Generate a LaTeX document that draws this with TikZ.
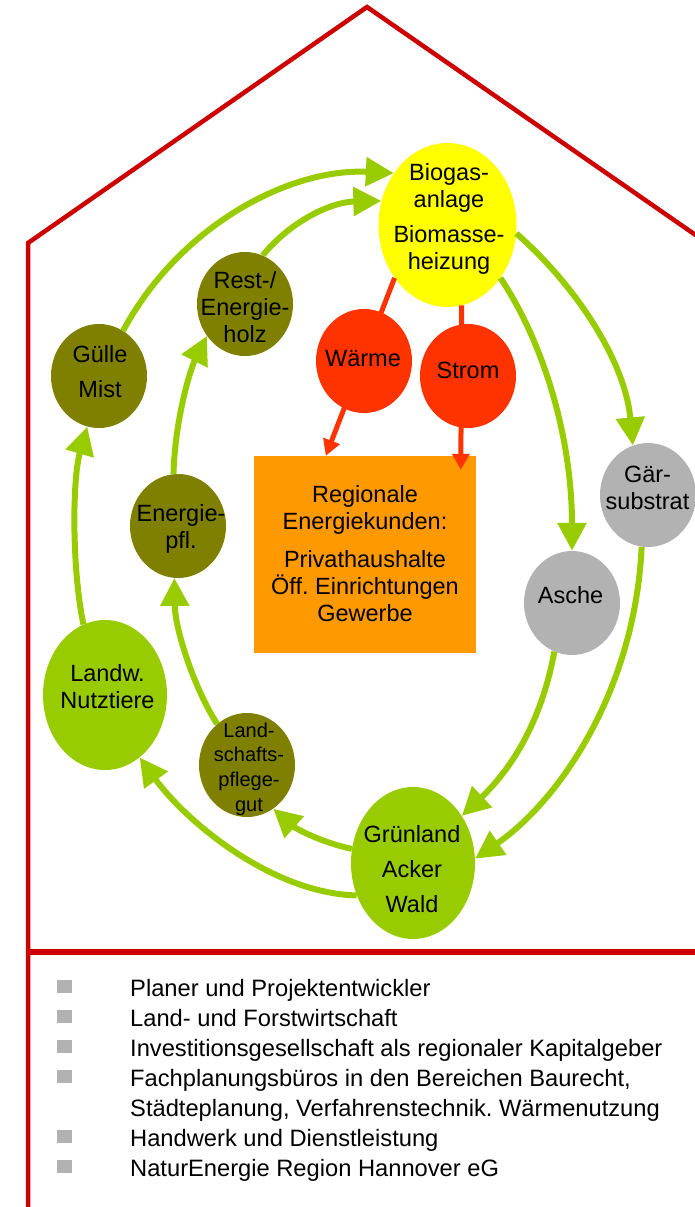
\documentclass[tikz,border=0pt]{standalone}
\usepackage{fontspec}
\setmainfont{Liberation Sans}
\usetikzlibrary{shapes.geometric,arrows.meta}
\definecolor{cHouse}{HTML}{CC0000}
\definecolor{cGreen}{HTML}{99CC00}
\definecolor{cOlive}{HTML}{808000}
\definecolor{cRed}{HTML}{FF3300}
\definecolor{cYellow}{HTML}{FFFF00}
\definecolor{cOrange}{HTML}{FF9900}
\definecolor{cGrey}{HTML}{B2B2B2}
\frenchspacing
\begin{document}
\begin{tikzpicture}[x=1pt,y=-1pt,
  blob/.style={ellipse, inner sep=0pt, draw=none},
  bigblob/.style={blob, minimum width=124pt, minimum height=150pt},
  smallblob/.style={blob, minimum width=96pt, minimum height=104pt},
  txt/.style={align=center, inner sep=0pt, text=black, font=\fontsize{23.5}{27}\selectfont},
  smalltxt/.style={align=center, inner sep=0pt, text=black, font=\fontsize{20}{24.7}\selectfont},
  legendtxt/.style={anchor=base west, inner sep=0pt, text=black, font=\fontsize{23.7}{28}\selectfont},
  bulletbox/.style={rectangle, fill=cGrey, minimum width=15pt, minimum height=13pt, inner sep=0pt},
  housepen/.style={draw=cHouse, line width=4.5pt, line join=miter},
  garrow/.style={draw=cGreen, line width=6pt, -{Triangle[length=28pt,width=28pt]}},
  rarrow/.style={draw=cRed, line width=5pt, -{Triangle[length=16pt,width=17pt]}}
]
\useasboundingbox (0,0) rectangle (695,1207);

% house outline
\coordinate (roofR) at (697,236);
\coordinate (apex) at (367,7);
\coordinate (eaveL) at (28,243);
\coordinate (footL) at (28,1210);
\coordinate (sepL) at (28,952);
\coordinate (sepR) at (697,952);
\draw[housepen] (roofR) -- (apex) -- (eaveL) -- (footL);
\draw[housepen, line width=5.5pt] (sepL) -- (sepR);

% central nodes
\node[blob, fill=cYellow, minimum width=138pt, minimum height=164pt] (bio) at (447.5,225) {};
\node[rectangle, fill=cOrange, minimum width=222pt, minimum height=197pt, inner sep=0pt] (box) at (365,554.5) {};

% red flows (behind Waerme / Strom)
\draw[rarrow] (bio.225) -- ([xshift=72pt]box.north west);
\draw[rarrow] (bio.-80) -- ([xshift=207pt,yshift=-14pt]box.north west);

\node[smallblob, fill=cRed] (waerme) at (364,361) {};
\node[smallblob, fill=cRed] (strom) at (468,376) {};

% cycle nodes
\node[smallblob, fill=cOlive] (rest) at (245,304) {};
\node[smallblob, fill=cOlive] (guelle) at (99,376) {};
\node[smallblob, fill=cOlive] (epfl) at (178,526) {};
\node[smallblob, fill=cGrey] (gaer) at (648,495) {};
\node[smallblob, fill=cGrey] (asche) at (572,603) {};
\node[smallblob, fill=cOlive] (lpg) at (247,765) {};
\node[bigblob, fill=cGreen] (landw) at (105,695) {};
\node[bigblob, fill=cGreen, minimum height=152pt] (gruen) at (413,863) {};

% green flows
\draw[garrow] (guelle.62) .. controls (180,225) and (290,168) .. (bio.136);
\draw[garrow] (rest.70) .. controls (290,222) and (330,202) .. (bio.160);
\draw[garrow] (bio.-7) .. controls (575,285) and (625,360) .. (gaer.107);
\draw[garrow] (bio.-45) .. controls (545,345) and (572,440) .. (asche.90);
\draw[garrow] (gaer.-97) .. controls (635,690) and (560,800) .. (gruen.4);
\draw[garrow] (asche.-110) .. controls (540,730) and (505,775) .. (gruen.44);
\draw[garrow] (gruen.167) .. controls (320,842) and (295,828) .. (lpg.-59);
\draw[garrow] (gruen.210) .. controls (270,893) and (185,820) .. (landw.-61);
\draw[garrow] (landw.107) .. controls (72,570) and (72,480) .. (guelle.-103);
\draw[garrow] (lpg.126) .. controls (195,690) and (175,630) .. (epfl.-94);
\draw[garrow] (epfl.95) .. controls (175,420) and (190,370) .. (rest.220);

% texts
\node[txt] (bioT) at (449,219) {Biogas-\\anlage\\[8pt]Biomasse-\\heizung};
\node[txt] (boxT) at (365,553.6) {Regionale\\Energiekunden:\\[11pt]Privathaushalte\\Öff. Einrichtungen\\Gewerbe};
\node[txt] (waermeT) at (363,358.7) {Wärme};
\node[txt] (stromT) at (468,370.7) {Strom};
\node[txt] (restT) at (245,306.6) {Rest-/\\Energie-\\holz};
\node[txt] (guelleT) at (100,372) {Gülle\\[8pt]Mist};
\node[txt] (epflT) at (181,528.6) {Energie-\\pfl.};
\node[txt] (gaerT) at (647.5,488) {Gär-\\substrat};
\node[txt] (ascheT) at (570.5,595) {Asche};
\node[txt] (landwT) at (107.5,687) {Landw.\\Nutztiere};
\node[smalltxt] (lpgT) at (249,769) {Land-\\schafts-\\pflege-\\gut};
\node[txt] (gruenT) at (412,868.6) {Grünland\\[8pt]Acker\\[8pt]Wald};

% legend
\node[bulletbox] (b1) at (64,986) {};
\node[bulletbox] (b2) at (64,1016) {};
\node[bulletbox] (b3) at (64,1046) {};
\node[bulletbox] (b4) at (64,1076) {};
\node[bulletbox] (b6) at (64,1136) {};
\node[bulletbox] (b7) at (64,1166) {};
\node[legendtxt] (l1) at (130,996) {Planer und Projektentwickler};
\node[legendtxt] (l2) at (130,1026) {Land- und Forstwirtschaft};
\node[legendtxt] (l3) at (130,1056) {Investitionsgesellschaft als regionaler Kapitalgeber};
\node[legendtxt] (l4) at (130,1086) {Fachplanungsbüros in den Bereichen Baurecht,};
\node[legendtxt] (l5) at (130,1116) {Städteplanung, Verfahrenstechnik. Wärmenutzung};
\node[legendtxt] (l6) at (130,1146) {Handwerk und Dienstleistung};
\node[legendtxt] (l7) at (130,1176) {NaturEnergie Region Hannover eG};
\end{tikzpicture}
\end{document}
